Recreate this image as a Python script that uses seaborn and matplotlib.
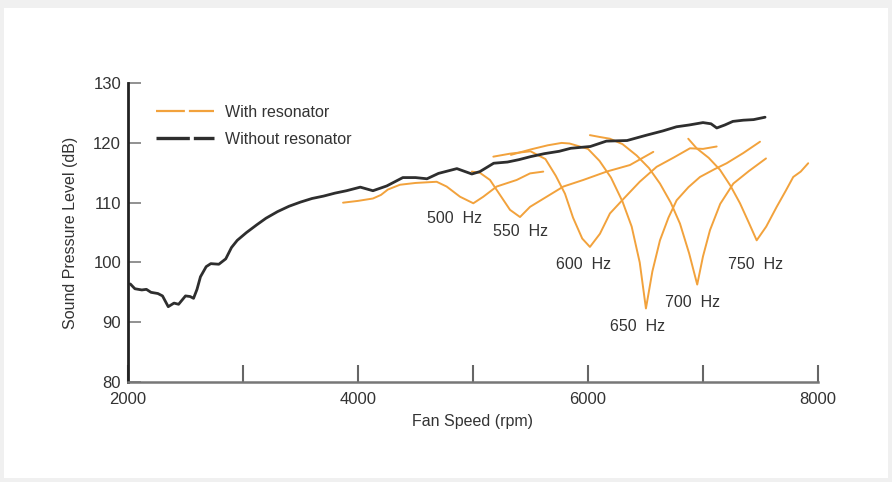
import numpy as np
import pandas as pd
import matplotlib
matplotlib.use('Agg')
import matplotlib.pyplot as plt
from matplotlib.lines import Line2D
from matplotlib.patches import Rectangle
import seaborn as sns

# Without resonator (black curve)
base_rpm = [2020, 2060, 2120, 2160, 2200, 2260, 2300, 2350, 2400, 2440, 2500, 2540,
            2570, 2600, 2630, 2680, 2720, 2790, 2850, 2900, 2950, 3030, 3120, 3200,
            3300, 3400, 3500, 3600, 3700, 3800, 3900, 4020, 4130, 4250, 4390, 4500,
            4600, 4700, 4860, 4990, 5060, 5180, 5300, 5400, 5500, 5620, 5750, 5850,
            6020, 6160, 6340, 6510, 6650, 6770, 6880, 7000, 7070, 7120, 7190, 7260,
            7350, 7440, 7540]
base_db = [96.4, 95.6, 95.4, 95.5, 95.0, 94.8, 94.4, 92.6, 93.2, 93.0, 94.4, 94.3,
           94.0, 95.5, 97.6, 99.3, 99.8, 99.7, 100.6, 102.5, 103.7, 105.0, 106.3, 107.4,
           108.5, 109.4, 110.1, 110.7, 111.1, 111.6, 112.0, 112.6, 112.0, 112.8, 114.2, 114.2,
           114.0, 114.9, 115.7, 114.8, 115.2, 116.6, 116.8, 117.2, 117.7, 118.2, 118.6, 119.1,
           119.4, 120.3, 120.4, 121.3, 122.0, 122.7, 123.0, 123.4, 123.2, 122.5, 123.0, 123.6,
           123.8, 123.9, 124.3]

# With resonator, one curve per tuning frequency
res_500_rpm = [3870, 4000, 4130, 4200, 4260, 4365, 4500, 4684, 4771, 4887, 5003, 5090,
               5206, 5380, 5496, 5611]
res_500_db = [110.0, 110.3, 110.7, 111.3, 112.2, 113.0, 113.3, 113.5, 112.7, 111.0, 109.9, 111.0,
              112.7, 113.8, 114.9, 115.2]

res_550_rpm = [4990, 5060, 5148, 5235, 5322, 5409, 5496, 5641, 5786, 5959, 6162, 6365, 6568]
res_550_db = [115.2, 115.0, 113.8, 111.3, 108.8, 107.6, 109.3, 111.0, 112.7, 113.8, 115.2, 116.3, 118.5]

res_600_rpm = [5177, 5322, 5500, 5630, 5720, 5800, 5870, 5950, 6017, 6104, 6191, 6307,
               6450, 6597, 6750, 6887, 7000, 7119]
res_600_db = [117.7, 118.2, 118.6, 117.3, 114.5, 111.5, 107.5, 104.0, 102.6, 104.8, 108.2, 110.6,
              113.5, 116.0, 117.6, 119.1, 119.0, 119.4]

res_650_rpm = [5330, 5500, 5650, 5771, 5840, 6000, 6100, 6200, 6300, 6380, 6450, 6504,
               6560, 6626, 6700, 6771, 6874, 6974, 7100, 7206, 7350, 7496]
res_650_db = [118.0, 118.9, 119.6, 120.0, 119.9, 119.0, 117.0, 114.2, 110.2, 106.0, 100.0, 92.3,
              98.5, 103.7, 107.5, 110.4, 112.6, 114.3, 115.6, 116.6, 118.3, 120.2]

res_700_rpm = [6017, 6100, 6191, 6300, 6423, 6530, 6626, 6720, 6800, 6880, 6950, 7000,
               7061, 7150, 7264, 7400, 7548]
res_700_db = [121.3, 121.0, 120.7, 119.8, 117.9, 115.8, 113.2, 110.0, 106.5, 101.5, 96.3, 101.0,
              105.4, 109.8, 113.2, 115.3, 117.4]

res_750_rpm = [6872, 6945, 7050, 7148, 7240, 7322, 7400, 7467, 7550, 7641, 7720, 7785, 7850, 7915]
res_750_db = [120.7, 119.1, 117.5, 115.5, 112.8, 109.9, 106.6, 103.7, 106.0, 109.3, 112.0, 114.3, 115.2, 116.6]

res_labels = ['500  Hz', '550  Hz', '600  Hz', '650  Hz', '700  Hz', '750  Hz']
label_rpm = [4843, 5409, 5965, 6435, 6913, 7461]
label_db = [107.4, 105.2, 99.6, 89.3, 93.3, 99.6]

ORANGE = '#f2a23c'
DARK = '#2e2e2e'

sns.set_style('white')
plt.rcParams['font.family'] = ['Liberation Sans', 'DejaVu Sans']

fig = plt.figure(figsize=(8.92, 4.82), dpi=100, facecolor='#f0f0f0')
fig.patches.append(Rectangle((0.005, 0.008), 0.99, 0.975, transform=fig.transFigure,
                             facecolor='white', edgecolor='none', zorder=-1))
ax = fig.add_axes([0.1435, 0.2075, 0.7735, 0.620])
ax.set_facecolor('white')

curves = [(res_500_rpm, res_500_db), (res_550_rpm, res_550_db), (res_600_rpm, res_600_db),
          (res_650_rpm, res_650_db), (res_700_rpm, res_700_db), (res_750_rpm, res_750_db)]
for rpm, db in curves:
    sns.lineplot(x=rpm, y=db, ax=ax, color=ORANGE, linewidth=1.4, estimator=None, sort=False)

sns.lineplot(x=base_rpm, y=base_db, ax=ax, color=DARK, linewidth=2.0, estimator=None, sort=False)

for txt, xr, yd in zip(res_labels, label_rpm, label_db):
    ax.text(xr, yd, txt, ha='center', va='center', fontsize=11.5, color='#333333')

ax.set_xlim(2000, 8000)
ax.set_ylim(80, 130)
ax.set_xticks([2000, 4000, 6000, 8000])
ax.set_xticks([3000, 5000, 7000], minor=True)
ax.set_yticks([80, 90, 100, 110, 120, 130])
ax.tick_params(axis='x', which='both', bottom=True, direction='in', length=12, width=1.5,
               color='#666666', labelsize=12, labelcolor='#333333', pad=7)
ax.tick_params(axis='y', left=True, direction='in', length=9, width=1.3, color='#888888',
               labelsize=12, labelcolor='#333333', pad=5)

for side in ['top', 'right']:
    ax.spines[side].set_visible(False)
ax.spines['left'].set_color('#222222')
ax.spines['left'].set_linewidth(2.0)
ax.spines['bottom'].set_color('#777777')
ax.spines['bottom'].set_linewidth(1.8)

ax.set_xlabel('Fan Speed (rpm)', fontsize=11.5, color='#333333', labelpad=5)
ax.set_ylabel('Sound Pressure Level (dB)', fontsize=11.5, color='#333333', labelpad=11)

handles = [Line2D([], [], color=ORANGE, linewidth=1.6, linestyle=(0, (13, 1.8))),
           Line2D([], [], color=DARK, linewidth=2.4, linestyle=(0, (10, 1.2)))]
ax.legend(handles, ['With resonator', 'Without resonator'], loc='upper left',
          bbox_to_anchor=(0.02, 0.975), frameon=False, fontsize=11.5,
          handlelength=3.6, handletextpad=0.7, labelspacing=0.75, labelcolor='#333333')

fig.savefig('out.png', dpi=100, facecolor=fig.get_facecolor())
